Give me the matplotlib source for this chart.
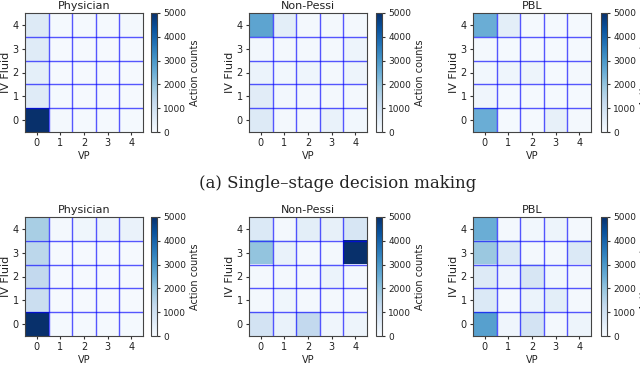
import numpy as np
import matplotlib
matplotlib.use("Agg")
import matplotlib.pyplot as plt

titles = ["Physician", "Non-Pessi", "PBL"]
vp_ticks = [0, 1, 2, 3, 4]
iv_ticks = [0, 1, 2, 3, 4]
cbar_ticks = [0, 1000, 2000, 3000, 4000, 5000]

# rows = IV Fluid 0..4 (bottom to top), columns = VP 0..4
single_physician = [
    [5200, 80, 60, 60, 60],
    [600, 60, 50, 50, 50],
    [450, 50, 50, 50, 50],
    [600, 50, 50, 50, 50],
    [650, 60, 60, 60, 80],
]
single_nonpessi = [
    [650, 80, 80, 350, 150],
    [550, 120, 80, 80, 100],
    [300, 150, 220, 80, 250],
    [120, 80, 80, 80, 250],
    [2700, 500, 80, 80, 80],
]
single_pbl = [
    [2500, 60, 60, 400, 100],
    [200, 60, 60, 60, 60],
    [150, 230, 250, 60, 80],
    [100, 60, 60, 60, 60],
    [2500, 500, 60, 60, 60],
]
multi_physician = [
    [5200, 60, 60, 60, 60],
    [1100, 50, 50, 50, 50],
    [1300, 50, 50, 50, 50],
    [1400, 50, 50, 50, 50],
    [1700, 80, 180, 250, 320],
]
multi_nonpessi = [
    [900, 350, 1300, 200, 250],
    [100, 180, 80, 100, 100],
    [80, 100, 80, 300, 80],
    [2000, 350, 80, 80, 5200],
    [700, 100, 500, 400, 800],
]
multi_pbl = [
    [2800, 200, 900, 100, 250],
    [700, 100, 300, 500, 100],
    [650, 200, 800, 150, 100],
    [1900, 700, 100, 100, 700],
    [2500, 100, 150, 250, 100],
]

rows = [
    [single_physician, single_nonpessi, single_pbl],
    [multi_physician, multi_nonpessi, multi_pbl],
]

W, H = 640, 382
fig = plt.figure(figsize=(W / 100, H / 100), dpi=100)

ax_left = [25, 249, 473]
cb_left = [151, 376, 601]
row_top = [13, 217]
ax_w, ax_h = 118, 119
cb_w = 6

for r, row in enumerate(rows):
    for c, data in enumerate(row):
        arr = np.array(data, dtype=float)
        bottom = H - row_top[r] - ax_h
        ax = fig.add_axes([ax_left[c] / W, bottom / H, ax_w / W, ax_h / H])
        im = ax.imshow(arr, cmap="Blues", vmin=0, vmax=5000, origin="lower",
                       aspect="auto", interpolation="nearest")
        for k in np.arange(0.5, 4.5, 1.0):
            ax.axvline(k, color="#0000ff", lw=1.0, alpha=0.65)
            ax.axhline(k, color="#0000ff", lw=1.0, alpha=0.65)
        ax.set_xticks(vp_ticks)
        ax.set_yticks(iv_ticks)
        ax.set_xticklabels([str(v) for v in vp_ticks])
        ax.set_yticklabels([str(v) for v in iv_ticks])
        ax.tick_params(labelsize=7, length=2.5, pad=2, color="#333333",
                       labelcolor="#222222")
        for s in ax.spines.values():
            s.set_color("#444444")
            s.set_linewidth(0.8)
        ax.set_title(titles[c], fontsize=8, pad=3, color="#222222")
        ax.set_ylabel("IV Fluid", fontsize=8, labelpad=1, color="#222222")
        ax.set_xlabel("VP", fontsize=7, labelpad=2, color="#222222")

        cax = fig.add_axes([cb_left[c] / W, bottom / H, cb_w / W, ax_h / H])
        cb = fig.colorbar(im, cax=cax, ticks=cbar_ticks)
        cb.ax.tick_params(labelsize=6.5, length=2.5, pad=2, color="#333333",
                          labelcolor="#222222")
        cb.outline.set_edgecolor("#444444")
        cb.outline.set_linewidth(0.8)
        cb.set_label("Action counts", fontsize=7, labelpad=3, color="#222222")

fig.text(0.527, 1 - 183 / H, "(a) Single\u2013stage decision making",
         ha="center", va="center", fontsize=12, family="DejaVu Serif",
         color="#222222")
fig.text(0.527, -0.004, "(b) Multi\u2013stage decision making",
         ha="center", va="top", fontsize=12, family="DejaVu Serif",
         color="#222222")

fig.savefig("out.png", dpi=100)
